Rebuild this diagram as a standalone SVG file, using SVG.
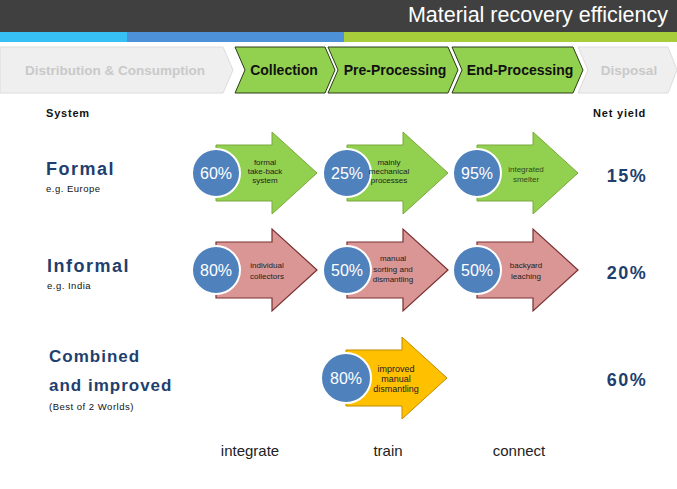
<svg xmlns="http://www.w3.org/2000/svg" width="677" height="489" viewBox="0 0 677 489">
<style>
.chev{fill:#92d050;stroke:#2b3d18;stroke-width:1}
.chevg{fill:#efefef;stroke:#dcdcdc;stroke-width:1}
.ct{font-family:"Liberation Sans",Arial,sans-serif;font-weight:bold;font-size:14px;fill:#111;text-anchor:middle}
.ctg{font-family:"Liberation Sans",Arial,sans-serif;font-weight:bold;font-size:13.5px;fill:#c9c9c9;text-anchor:middle}
.hdr{font-family:"Liberation Sans",Arial,sans-serif;font-weight:bold;font-size:11px;fill:#111;letter-spacing:0.8px}
.sys{font-family:"Liberation Sans",Arial,sans-serif;font-weight:bold;font-size:18px;fill:#1f3f6f;letter-spacing:1.5px}
.sys2{font-family:"Liberation Sans",Arial,sans-serif;font-weight:bold;font-size:17px;fill:#1f3f6f;letter-spacing:1px}
.sub{font-family:"Liberation Sans",Arial,sans-serif;font-size:9.5px;fill:#111;letter-spacing:0.5px}
.yield{font-family:"Liberation Sans",Arial,sans-serif;font-weight:bold;font-size:18px;fill:#1f3f6f;letter-spacing:1.5px;text-anchor:middle}
.ag{fill:#92d050;stroke:#7aa83c;stroke-width:1}
.ar{fill:#d99694;stroke:#7a3030;stroke-width:1.2}
.ay{fill:#ffc000;stroke:#c08a00;stroke-width:1}
.circ{fill:#4f81bd;stroke:#fff;stroke-width:2}
.pct{font-family:"Liberation Sans",Arial,sans-serif;font-size:16px;fill:#fff;text-anchor:middle}
.lbl{font-family:"Liberation Sans",Arial,sans-serif;font-size:8px;fill:#222;text-anchor:middle}
.bot{font-family:"Liberation Sans",Arial,sans-serif;font-size:15px;fill:#222;text-anchor:middle}
</style>
<defs>
<path id="arrow" d="M0,-28 H56 V-41 L101,0 L56,41 V28 H0 Z"/>
</defs>
<rect width="677" height="489" fill="#fff"/>
<g id="header">
<rect x="0" y="0" width="677" height="32" fill="#404040"/>
<rect x="0" y="32" width="127" height="10" fill="#36c0f4"/>
<rect x="127" y="32" width="217" height="10" fill="#4d91d9"/>
<rect x="344" y="32" width="333" height="10" fill="#a7cd3a"/>
<text x="668" y="22" font-family="Liberation Sans, Arial, sans-serif" font-size="21.5" fill="#fff" text-anchor="end">Material recovery efficiency</text>
</g>
<g id="stages">
<g id="stage-distribution"><polygon class="chevg" points="0,47 223,47 233,70 223,93 0,93"/><text class="ctg" x="115" y="75">Distribution &amp; Consumption</text></g>
<g id="stage-collection"><polygon class="chev" points="235,47 325,47 335,70 325,93 235,93 245,70"/><text class="ct" x="284" y="75">Collection</text></g>
<g id="stage-preprocessing"><polygon class="chev" points="328,47 448,47 458,70 448,93 328,93 338,70"/><text class="ct" x="395" y="75">Pre-Processing</text></g>
<g id="stage-endprocessing"><polygon class="chev" points="452,47 573,47 583,70 573,93 452,93 462,70"/><text class="ct" x="520" y="75">End-Processing</text></g>
<g id="stage-disposal"><polygon class="chevg" points="578,47 668,47 677,70 668,93 578,93 588,70"/><text class="ctg" x="629" y="75">Disposal</text></g>
</g>
<g id="headers">
<text class="hdr" x="46" y="117">System</text>
<text class="hdr" x="593" y="117">Net yield</text>
</g>
<g id="systems">
<text class="sys" x="46" y="175">Formal</text>
<text class="sub" x="46" y="192">e.g. Europe</text>
<text class="sys" x="47" y="272">Informal</text>
<text class="sub" x="47" y="289">e.g. India</text>
<text class="sys2" x="49" y="362">Combined</text>
<text class="sys2" x="49" y="391">and improved</text>
<text class="sub" x="49" y="410">(Best of 2 Worlds)</text>
</g>
<g id="yields">
<text class="yield" x="627" y="182">15%</text>
<text class="yield" x="627" y="279">20%</text>
<text class="yield" x="627" y="386">60%</text>
</g>
<g id="connectors"></g>
<g id="formal-collection">
<use href="#arrow" class="ag" x="216" y="173"/>
<circle class="circ" cx="216" cy="173" r="24"/>
<text class="pct" x="216" y="179">60%</text>
<text class="lbl" x="265" y="165">formal</text><text class="lbl" x="265" y="174">take-back</text><text class="lbl" x="265" y="183">system</text>
</g>
<g id="formal-preprocessing">
<use href="#arrow" class="ag" x="347" y="173"/>
<circle class="circ" cx="347" cy="173" r="24"/>
<text class="pct" x="347" y="179">25%</text>
<text class="lbl" x="389" y="165">mainly</text><text class="lbl" x="389" y="174">mechanical</text><text class="lbl" x="389" y="183">processes</text>
</g>
<g id="formal-endprocessing">
<use href="#arrow" class="ag" x="477" y="173"/>
<circle class="circ" cx="477" cy="173" r="24"/>
<text class="pct" x="477" y="179">95%</text>
<text class="lbl" x="526" y="172" style="fill:#2f4a18">integrated</text><text class="lbl" x="526" y="182" style="fill:#2f4a18">smelter</text>
</g>
<g id="informal-collection">
<use href="#arrow" class="ar" x="216" y="270"/>
<circle class="circ" cx="216" cy="270" r="24"/>
<text class="pct" x="216" y="276">80%</text>
<text class="lbl" x="267" y="268">individual</text><text class="lbl" x="267" y="279">collectors</text>
</g>
<g id="informal-preprocessing">
<use href="#arrow" class="ar" x="347" y="270"/>
<circle class="circ" cx="347" cy="270" r="24"/>
<text class="pct" x="347" y="276">50%</text>
<text class="lbl" x="393" y="261">manual</text><text class="lbl" x="393" y="272">sorting and</text><text class="lbl" x="393" y="282">dismantling</text>
</g>
<g id="informal-endprocessing">
<use href="#arrow" class="ar" x="477" y="270"/>
<circle class="circ" cx="477" cy="270" r="24"/>
<text class="pct" x="477" y="276">50%</text>
<text class="lbl" x="526" y="268">backyard</text><text class="lbl" x="526" y="279">leaching</text>
</g>
<g id="combined-preprocessing">
<use href="#arrow" class="ay" x="346" y="378"/>
<circle class="circ" cx="346" cy="378" r="25"/>
<text class="pct" x="346" y="384">80%</text>
<text class="lbl" x="396" y="372" style="font-size:9px">improved</text><text class="lbl" x="396" y="382" style="font-size:9px">manual</text><text class="lbl" x="396" y="392" style="font-size:9px">dismantling</text>
</g>
<g id="actions">
<text class="bot" x="250" y="456">integrate</text>
<text class="bot" x="388" y="456">train</text>
<text class="bot" x="519" y="456">connect</text>
</g>
</svg>
